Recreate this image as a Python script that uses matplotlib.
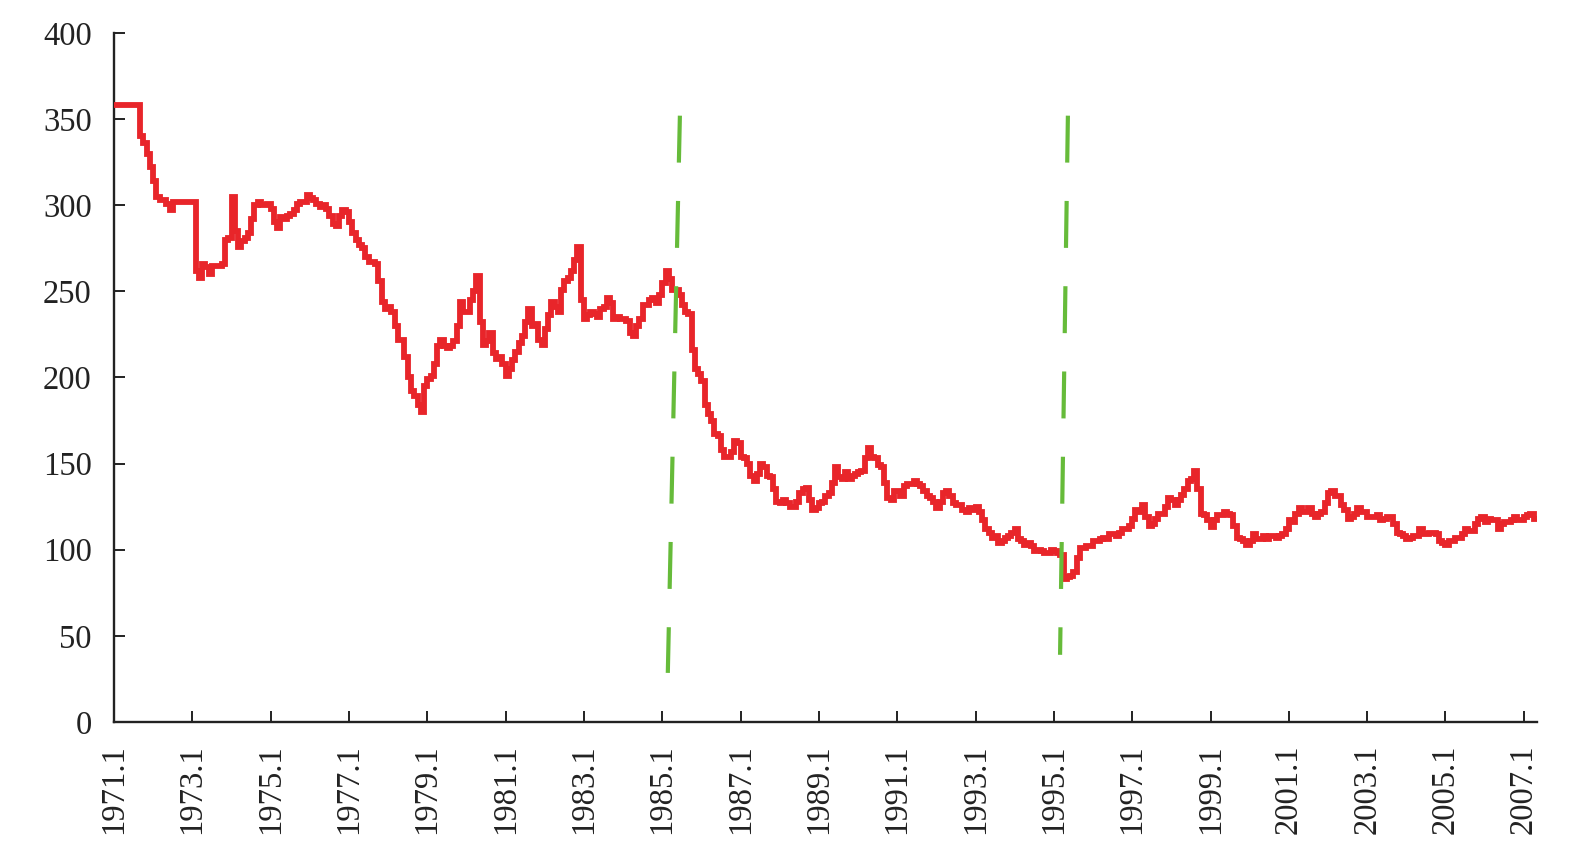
import numpy as np
import matplotlib
matplotlib.use("Agg")
import matplotlib.pyplot as plt

plt.rcParams['font.family'] = ['Liberation Serif', 'DejaVu Serif']
plt.rcParams['lines.scale_dashes'] = False

# Monthly yen per US dollar, 1971.1 - 2007.4
y1971 = [358, 358, 358, 358, 358, 358, 358, 358, 340, 336, 330, 322]
y1972 = [314, 305, 303, 303, 301, 297, 302, 302, 302, 302, 302, 302]
y1973 = [302, 262, 258, 266, 264, 260, 265, 265, 265, 266, 280, 281]
y1974 = [305, 285, 276, 279, 281, 284, 292, 300, 302, 300, 300, 301]
y1975 = [298, 290, 287, 293, 292, 294, 295, 297, 301, 302, 302, 306]
y1976 = [304, 303, 301, 299, 300, 298, 294, 289, 288, 294, 297, 296]
y1977 = [290, 284, 280, 277, 275, 270, 267, 267, 266, 256, 244, 240]
y1978 = [241, 238, 230, 222, 222, 212, 200, 192, 189, 184, 180, 195]
y1979 = [199, 201, 208, 218, 222, 218, 217, 218, 221, 230, 244, 238]
y1980 = [238, 245, 250, 259, 232, 219, 221, 226, 214, 211, 212, 208]
y1981 = [201, 205, 210, 215, 220, 224, 232, 240, 230, 231, 222, 219]
y1982 = [228, 236, 244, 241, 238, 251, 256, 258, 262, 268, 276, 245]
y1983 = [234, 236, 238, 237, 235, 240, 241, 246, 243, 234, 235, 234]
y1984 = [234, 233, 226, 224, 230, 234, 242, 242, 245, 246, 243, 248]
y1985 = [255, 262, 257, 251, 251, 248, 242, 238, 237, 216, 205, 202]
y1986 = [198, 184, 179, 175, 167, 166, 158, 154, 154, 157, 163, 162]
y1987 = [154, 153, 150, 143, 140, 144, 150, 148, 143, 142, 135, 128]
y1988 = [127, 129, 127, 125, 125, 128, 133, 135, 136, 129, 123, 124]
y1989 = [127, 128, 131, 133, 139, 148, 142, 141, 145, 141, 143, 144]
y1990 = [145, 146, 153, 159, 154, 153, 149, 148, 139, 130, 129, 134]
y1991 = [134, 131, 137, 138, 138, 140, 138, 137, 134, 131, 130, 128]
y1992 = [124, 128, 133, 134, 131, 127, 126, 126, 123, 122, 124, 123]
y1993 = [125, 122, 117, 112, 110, 107, 108, 104, 105, 107, 108, 110]
y1994 = [112, 106, 105, 103, 104, 102, 99, 100, 99, 98, 98, 100]
y1995 = [99, 98, 97, 83, 84, 85, 87, 95, 101, 101, 102, 102]
y1996 = [105, 105, 106, 107, 106, 109, 109, 108, 110, 112, 112, 114]
y1997 = [118, 123, 122, 126, 119, 114, 115, 118, 121, 121, 125, 130]
y1998 = [129, 126, 129, 132, 135, 140, 141, 146, 135, 121, 120, 117]
y1999 = [113, 117, 120, 120, 122, 121, 120, 114, 107, 106, 105, 103]
y2000 = [105, 109, 106, 106, 108, 106, 108, 108, 107, 108, 109, 112]
y2001 = [117, 116, 121, 124, 122, 122, 124, 121, 119, 121, 122, 127]
y2002 = [133, 134, 131, 131, 126, 123, 118, 119, 121, 124, 122, 122]
y2003 = [119, 119, 119, 120, 117, 118, 119, 119, 115, 110, 109, 108]
y2004 = [106, 107, 108, 108, 112, 109, 109, 110, 110, 109, 105, 104]
y2005 = [103, 105, 105, 107, 107, 109, 112, 111, 111, 115, 118, 119]
y2006 = [116, 118, 117, 117, 112, 115, 116, 116, 117, 119, 117, 117]
y2007 = [119, 120, 121, 118]

yearly = [y1971, y1972, y1973, y1974, y1975, y1976, y1977, y1978, y1979,
          y1980, y1981, y1982, y1983, y1984, y1985, y1986, y1987, y1988,
          y1989, y1990, y1991, y1992, y1993, y1994, y1995, y1996, y1997,
          y1998, y1999, y2000, y2001, y2002, y2003, y2004, y2005, y2006, y2007]

# x tick labels (every 24 months from 1971.1)
tick_labels = [f"{y}.1" for y in range(1971, 2008, 2)]
y_ticks = [0, 50, 100, 150, 200, 250, 300, 350, 400]

# Slanted dashed marker lines (month index from 1971.1, value)
event_month_top = [173.4, 292.3]
event_month_bottom = [169.7, 289.9]
event_value_top = [352, 352]
event_value_bottom = [28.5, 39]

values = [v for yr in yearly for v in yr]
n = len(values)
x = np.arange(n + 1)
y = values + [values[-1]]

fig = plt.figure(figsize=(15.86, 8.66), dpi=100)
ax = fig.add_axes([0.0719, 0.1663, 0.969 - 0.0719, 0.9619 - 0.1663])

ax.plot(x, y, drawstyle='steps-post', color='#E8252A', lw=4.2,
        solid_joinstyle='miter', zorder=3)

for xt, xb, yt, yb in zip(event_month_top, event_month_bottom,
                          event_value_top, event_value_bottom):
    ax.plot([xt, xb], [yt, yb], color='#66BB3A', lw=3.0,
            linestyle=(0, (33.8, 27.6)), solid_capstyle='butt',
            dash_capstyle='butt', zorder=4)

ax.set_xlim(0, 436)
ax.set_ylim(0, 400)
ax.set_yticks(y_ticks)
ax.set_yticklabels([str(t) for t in y_ticks])
ax.set_xticks(np.arange(0, 24 * len(tick_labels), 24))
ax.set_xticklabels(tick_labels, rotation=90, va='top', ha='center')

for s in ['top', 'right']:
    ax.spines[s].set_visible(False)
for s in ['left', 'bottom']:
    ax.spines[s].set_linewidth(1.7)
    ax.spines[s].set_color('#222222')

ax.tick_params(axis='both', direction='in', length=8, width=1.4,
               colors='#222222', labelsize=23.5, labelcolor='#222222')
ax.tick_params(axis='y', pad=16)
ax.tick_params(axis='x', pad=16)

fig.savefig('out.png', dpi=100, facecolor='white')
